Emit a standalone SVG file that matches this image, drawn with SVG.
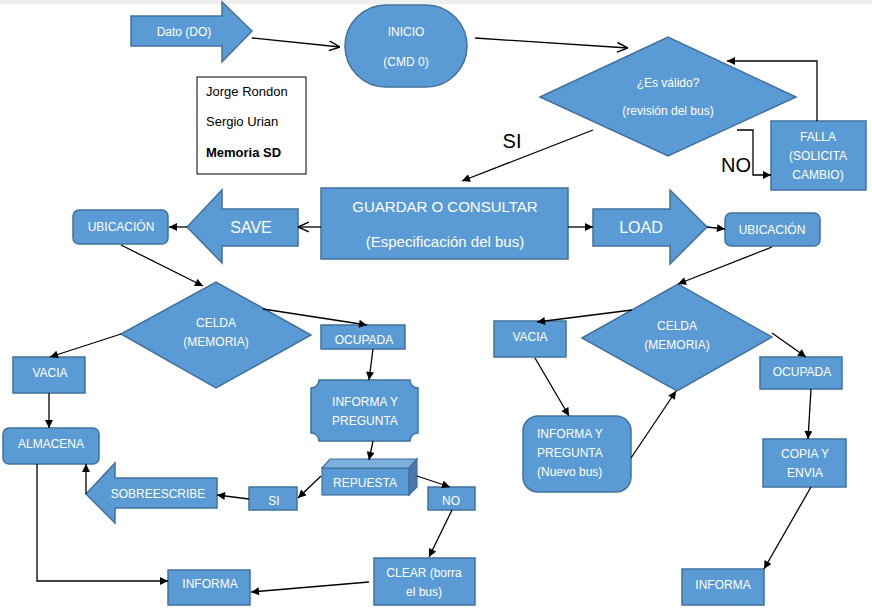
<svg xmlns="http://www.w3.org/2000/svg" width="872" height="613" viewBox="0 0 872 613">
<defs>
<style>
.n{fill:#5B9BD5;stroke:#41719C;stroke-width:1.5}
.t{fill:#fff;font-family:"Liberation Sans",Arial,sans-serif;font-size:12px;text-anchor:middle;dominant-baseline:central}
.tl{fill:#fff;font-family:"Liberation Sans",Arial,sans-serif;font-size:12px;dominant-baseline:central}
.b{font-size:15px}
.m{font-size:16px}
.k{fill:#000;font-family:"Liberation Sans",Arial,sans-serif;font-size:13px;dominant-baseline:central}
.big{fill:#000;font-family:"Liberation Sans",Arial,sans-serif;font-size:20px;text-anchor:middle;dominant-baseline:central}
.c path{fill:none;stroke:#000;stroke-width:1.3}
.f{marker-end:url(#af)}
.o{marker-end:url(#ao)}
</style>
<marker id="af" viewBox="0 0 10 10" refX="10" refY="5" markerWidth="9" markerHeight="8" orient="auto" markerUnits="userSpaceOnUse">
<path d="M0,0 L10,5 L0,10 z" fill="#000"/>
</marker>
<marker id="ao" viewBox="0 0 10 10" refX="10" refY="5" markerWidth="12" markerHeight="12" orient="auto" markerUnits="userSpaceOnUse">
<path d="M1,1 L10,5 L1,9" fill="none" stroke="#000" stroke-width="1.2"/>
</marker>
</defs>
<rect x="0" y="0" width="872" height="613" fill="#fff"/>
<rect x="0" y="0" width="872" height="4" fill="#efefef"/>

<g id="dato"><polygon class="n" points="131,16 222,16 222,2 252,31 222,62 222,46 131,46"/><text class="t" x="184" y="32">Dato (DO)</text></g>
<g id="inicio"><rect class="n" x="345" y="5" width="122" height="82" rx="41" ry="41"/><text class="t" x="406" y="32">INICIO</text><text class="t" x="406" y="62">(CMD 0)</text></g>
<g id="autores"><rect x="197" y="77" width="109" height="97" fill="#fff" stroke="#000" stroke-width="1"/><text class="k" x="206" y="91">Jorge Rondon</text><text class="k" x="206" y="121">Sergio Urian</text><text class="k" x="206" y="152" font-weight="bold">Memoria SD</text></g>
<g id="valido"><polygon class="n" points="540,97 668,37 796,97 668,156"/><text class="t" x="668" y="83">¿Es válido?</text><text class="t" x="668" y="111">(revisión del bus)</text></g>
<g id="falla"><rect class="n" x="771" y="121" width="95" height="69"/><text class="t" x="818" y="137">FALLA</text><text class="t" x="818" y="156">(SOLICITA</text><text class="t" x="818" y="175">CAMBIO)</text></g>
<g id="guardar"><rect class="n" x="321" y="188" width="247" height="71"/><text class="t b" x="445" y="206">GUARDAR O CONSULTAR</text><text class="t b" x="445" y="241">(Especificación del bus)</text></g>
<g id="save"><polygon class="n" points="187,227 222,190 222,209 298,209 298,246 222,246 222,263"/><text class="t m" x="251" y="227">SAVE</text></g>
<g id="load"><polygon class="n" points="593,209 670,209 670,190 707,227 670,264 670,246 593,246"/><text class="t m" x="641" y="227">LOAD</text></g>
<g id="ubicacion-l"><rect class="n" x="73" y="210" width="95" height="34" rx="6"/><text class="t" x="121" y="227">UBICACIÓN</text></g>
<g id="ubicacion-r"><rect class="n" x="725" y="213" width="95" height="33" rx="6"/><text class="t" x="772" y="230">UBICACIÓN</text></g>

<g id="celda-l"><polygon class="n" points="121,334 216,282 311,335 216,388"/><text class="t" x="216" y="323">CELDA</text><text class="t" x="216" y="342">(MEMORIA)</text></g>
<g id="vacia-l"><rect class="n" x="13" y="357" width="72" height="36"/><text class="t" x="50" y="373">VACIA</text></g>
<g id="ocupada-l"><rect class="n" x="321" y="325" width="84" height="24"/><text class="t" x="364" y="340">OCUPADA</text></g>
<g id="almacena"><rect class="n" x="3" y="428" width="96" height="36" rx="6"/><text class="t" x="51" y="444">ALMACENA</text></g>
<g id="informa-pregunta"><path class="n" d="M319,380 H410 A8,8 0 0 0 418,388 V433 A8,8 0 0 0 410,441 H319 A8,8 0 0 0 311,433 V388 A8,8 0 0 0 319,380 Z"/><text class="t" x="365" y="402">INFORMA Y</text><text class="t" x="365" y="421">PREGUNTA</text></g>
<g id="repuesta"><rect x="322" y="468" width="87" height="27" fill="#5B9BD5" stroke="#41719C" stroke-width="1.2"/><polygon points="322,468 330,459 417,459 409,468" fill="#7DAFDE" stroke="#41719C" stroke-width="1.2"/><polygon points="409,468 417,459 417,487 409,495" fill="#4878A8" stroke="#41719C" stroke-width="1.2"/><text class="t" x="365" y="483">REPUESTA</text></g>
<g id="si-box"><rect class="n" x="249" y="487" width="48" height="23"/><text class="t" x="274" y="501">SI</text></g>
<g id="sobreescribe"><polygon class="n" points="86,494 115,463 115,478 217,478 217,508 115,508 115,523"/><text class="t" x="158" y="494">SOBREESCRIBE</text></g>
<g id="no-box"><rect class="n" x="428" y="487" width="47" height="23"/><text class="t" x="451" y="501">NO</text></g>
<g id="clear"><rect class="n" x="374" y="558" width="101" height="47"/><text class="t" x="424" y="573">CLEAR (borra</text><text class="t" x="424" y="592">el bus)</text></g>
<g id="informa-l"><rect class="n" x="168" y="570" width="82" height="35"/><text class="t" x="210" y="584">INFORMA</text></g>

<g id="celda-r"><polygon class="n" points="582,338 678,284 772,337 677,391"/><text class="t" x="677" y="326">CELDA</text><text class="t" x="677" y="345">(MEMORIA)</text></g>
<g id="vacia-r"><rect class="n" x="494" y="321" width="72" height="36"/><text class="t" x="530" y="337">VACIA</text></g>
<g id="informa-nuevo"><rect class="n" x="523" y="416" width="108" height="76" rx="15"/><text class="tl" x="537" y="434">INFORMA Y</text><text class="tl" x="537" y="453">PREGUNTA</text><text class="tl" x="537" y="472">(Nuevo bus)</text></g>
<g id="ocupada-r"><rect class="n" x="760" y="357" width="82" height="32"/><text class="t" x="802" y="372">OCUPADA</text></g>
<g id="copia"><rect class="n" x="763" y="439" width="83" height="48"/><text class="t" x="805" y="454">COPIA Y</text><text class="t" x="805" y="473">ENVIA</text></g>
<g id="informa-r"><rect class="n" x="682" y="569" width="82" height="36"/><text class="t" x="723" y="585">INFORMA</text></g>

<g id="labels"><text class="big" x="512" y="141">SI</text><text class="big" x="736" y="165">NO</text></g>

<g id="connectors" class="c">
<path class="o" d="M252,38 L340,47"/>
<path class="o" d="M475,38 L628,48"/>
<path class="f" d="M593,130 L462,181"/>
<path class="f" d="M737,130 H753 V175 H771"/>
<path class="f" d="M817,121 V61 H727"/>
<path class="o" d="M321,227 H298"/>
<path class="f" d="M187,227 H169"/>
<path class="f" d="M568,227 H593"/>
<path class="f" d="M707,227 L725,229"/>
<path class="f" d="M772,247 L678,284"/>
<path class="f" d="M632,310 L537,322"/>
<path class="f" d="M535,358 L569,416"/>
<path class="f" d="M631,458 L676,391"/>
<path class="f" d="M772,333 L806,357"/>
<path class="f" d="M811,389 L808,439"/>
<path class="f" d="M811,487 L764,569"/>
<path class="f" d="M121,245 L203,286"/>
<path class="f" d="M121,334 L50,357"/>
<path class="f" d="M263,309 L367,325"/>
<path class="f" d="M49,393 V428"/>
<path class="f" d="M373,349 L369,380"/>
<path class="f" d="M373,441 L369,460"/>
<path class="f" d="M321,476 L298,498"/>
<path class="f" d="M249,499 L217,495"/>
<path class="f" d="M86,494 V464"/>
<path class="f" d="M417,476 L450,487"/>
<path class="f" d="M452,510 L429,557"/>
<path class="f" d="M369,582 L251,592"/>
<path class="f" d="M37,464 V581 H168"/>
</g>
</svg>
